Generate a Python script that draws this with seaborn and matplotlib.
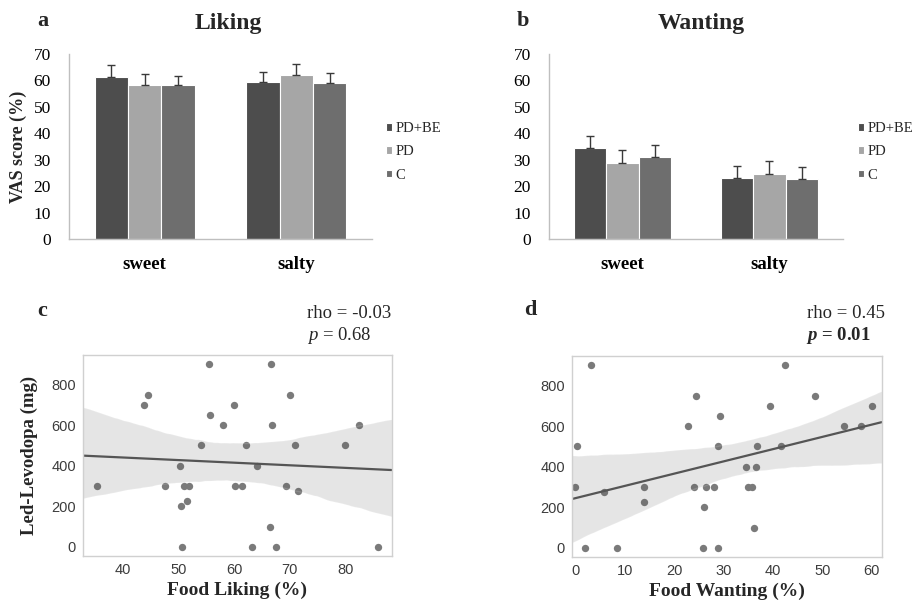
import numpy as np
import pandas as pd
import matplotlib
matplotlib.use('Agg')
import matplotlib.pyplot as plt
import seaborn as sns

# ---- data ----
tastes = ['sweet', 'salty']
groups = ['PD+BE', 'PD', 'C']
bar_colors = ['#4d4d4d', '#a6a6a6', '#6e6e6e']

# VAS score (%), mean and upper error per group (sweet, salty)
liking_pdbe = [61.4, 59.4]
liking_pd = [58.2, 62.0]
liking_c = [58.2, 59.1]
liking_pdbe_err = [4.2, 3.6]
liking_pd_err = [4.1, 4.1]
liking_c_err = [3.4, 3.6]

wanting_pdbe = [34.4, 23.0]
wanting_pd = [28.9, 24.7]
wanting_c = [31.1, 22.7]
wanting_pdbe_err = [4.7, 4.6]
wanting_pd_err = [4.8, 4.7]
wanting_c_err = [4.3, 4.4]

# Led-Levodopa (mg) vs food liking / wanting (%)
liking_x = [35.4, 43.8, 44.6, 47.6, 50.3, 50.4, 50.6, 51.0, 51.9, 51.6, 54.0,
            55.5, 55.7, 58.1, 60.0, 60.1, 61.5, 62.1, 63.2, 64.2, 66.5, 66.6,
            66.9, 67.5, 69.4, 70.1, 70.9, 71.5, 80.0, 82.5, 85.8]
liking_led = [300, 700, 750, 300, 400, 200, 0, 300, 300, 225, 500,
              900, 650, 600, 700, 300, 300, 500, 0, 400, 100, 900,
              600, 0, 300, 750, 500, 275, 500, 600, 0]
wanting_x = [3.1, 0.3, 0.0, 5.7, 2.0, 8.5, 13.9, 13.9, 22.8, 24.4, 23.9,
             26.5, 26.0, 25.8, 28.1, 28.8, 28.8, 29.2, 34.6, 35.0, 35.7, 36.5,
             36.1, 36.7, 39.4, 41.7, 42.4, 48.6, 54.3, 57.8, 60.1]
wanting_led = [900, 500, 300, 275, 0, 0, 300, 225, 600, 750, 300,
               300, 200, 0, 300, 0, 500, 650, 400, 300, 300, 400,
               100, 500, 700, 500, 900, 750, 600, 600, 700]

sns.set_theme(style='whitegrid')
plt.rcParams['mathtext.fontset'] = 'custom'
plt.rcParams['mathtext.it'] = 'Liberation Serif:italic'
plt.rcParams['mathtext.bf'] = 'Liberation Serif:bold'
plt.rcParams['mathtext.bfit'] = 'Liberation Serif:italic:bold'

SERIF = 'Liberation Serif'
SANS = 'Liberation Sans'

fig = plt.figure(figsize=(9.16, 6.07), dpi=100)


def bar_panel(ax, means, errs, legend_x):
    df = pd.DataFrame({
        'taste': tastes * len(groups),
        'group': [g for g in groups for _ in tastes],
        'score': [v for m in means for v in m],
    })
    sns.barplot(data=df, x='taste', y='score', hue='group', order=tastes,
                hue_order=groups, palette=bar_colors, saturation=1,
                width=0.66, errorbar=None, edgecolor='white', linewidth=0.8,
                ax=ax)
    for cont, err in zip(list(ax.containers), errs):
        for bar, e in zip(cont, err):
            ax.errorbar(bar.get_x() + bar.get_width() / 2, bar.get_height(),
                        yerr=[[0], [e]], fmt='none', ecolor='#3a3a3a',
                        elinewidth=1, capsize=3, capthick=1)
    ax.set_ylim(0, 70)
    ax.set_yticks(range(0, 71, 10))
    ax.set_xlim(-0.5, 1.5)
    ax.grid(False)
    for s in ['top', 'right']:
        ax.spines[s].set_visible(False)
    for s in ['left', 'bottom']:
        ax.spines[s].set_color('#bfbfbf')
        ax.spines[s].set_linewidth(1)
    ax.tick_params(axis='y', length=0, pad=13, labelsize=12.5, labelcolor='black')
    ax.tick_params(axis='x', length=0, pad=12, labelsize=13.5, labelcolor='black')
    for lab in ax.get_yticklabels():
        lab.set_fontfamily(SERIF)
    for lab in ax.get_xticklabels():
        lab.set_fontfamily(SERIF)
        lab.set_fontweight('bold')
    ax.set_xlabel('')
    ax.set_ylabel('')
    handles, labels = ax.get_legend_handles_labels()
    ax.legend(handles, labels, loc='center left', bbox_to_anchor=(legend_x, 0.47),
              frameon=False, borderpad=0, borderaxespad=0,
              handlelength=0.45, handleheight=0.45,
              handletextpad=0.2, labelspacing=0.7,
              prop={'family': SERIF, 'size': 10.5})


def scatter_panel(ax, x, y, xlim=None):
    if xlim is not None:
        ax.set_xlim(*xlim)
    sns.regplot(x=x, y=y, ax=ax, truncate=False, seed=3,
                scatter_kws={'color': '#7a7a7a', 's': 28, 'alpha': 1,
                             'linewidths': 0},
                line_kws={'color': '#555555', 'linewidth': 1.6})
    if xlim is not None:
        ax.set_xlim(*xlim)
    ax.grid(False)
    for s in ax.spines.values():
        s.set_color('#d0d0d0')
        s.set_linewidth(1)
    ax.set_yticks([0, 200, 400, 600, 800])
    ax.tick_params(length=0, labelsize=10.5, labelcolor='#3c3c3c', pad=5)
    for lab in ax.get_xticklabels() + ax.get_yticklabels():
        lab.set_fontfamily(SANS)


# a: Liking
ax_a = fig.add_axes([0.0753, 0.6063, 0.331, 0.305])
bar_panel(ax_a, [liking_pdbe, liking_pd, liking_c],
          [liking_pdbe_err, liking_pd_err, liking_c_err], legend_x=1.045)
ax_a.set_ylabel('VAS score (%)', fontfamily=SERIF, fontweight='bold',
                fontsize=13)
ax_a.yaxis.set_label_coords(-0.14, 0.5)

# b: Wanting
ax_b = fig.add_axes([0.5993, 0.6063, 0.321, 0.305])
bar_panel(ax_b, [wanting_pdbe, wanting_pd, wanting_c],
          [wanting_pdbe_err, wanting_pd_err, wanting_c_err], legend_x=1.05)

# c: liking vs levodopa
ax_c = fig.add_axes([0.0906, 0.084, 0.337, 0.331])
scatter_panel(ax_c, liking_x, liking_led)
ax_c.set_xticks([40, 50, 60, 70, 80])
ax_c.set_xlabel('Food Liking (%)', fontfamily=SERIF, fontweight='bold',
                fontsize=14)
ax_c.set_ylabel('Led-Levodopa (mg)', fontfamily=SERIF, fontweight='bold',
                fontsize=13.5)
ax_c.yaxis.set_label_coords(-0.145, 0.5)
ax_c.xaxis.set_label_coords(0.5, -0.13)

# d: wanting vs levodopa
ax_d = fig.add_axes([0.6245, 0.0824, 0.338, 0.331])
scatter_panel(ax_d, wanting_x, wanting_led, xlim=(-0.7, 62))
ax_d.set_xticks([0, 10, 20, 30, 40, 50, 60])
ax_d.set_xlabel('Food Wanting (%)', fontfamily=SERIF, fontweight='bold',
                fontsize=14)
ax_d.xaxis.set_label_coords(0.5, -0.13)

# panel letters, titles and stats
W, H = 916, 607


def ftext(px, py, s, **kw):
    fig.text(px / W, 1 - py / H, s, va='center', **kw)


ftext(43, 21, 'a', ha='center', fontfamily=SERIF, fontweight='bold', fontsize=16)
ftext(228, 23, 'Liking', ha='center', fontfamily=SERIF, fontweight='bold', fontsize=17)
ftext(523, 21, 'b', ha='center', fontfamily=SERIF, fontweight='bold', fontsize=16)
ftext(701, 23, 'Wanting', ha='center', fontfamily=SERIF, fontweight='bold', fontsize=17)
ftext(42, 311, 'c', ha='center', fontfamily=SERIF, fontweight='bold', fontsize=16)
ftext(530, 310, 'd', ha='center', fontfamily=SERIF, fontweight='bold', fontsize=16)

ftext(307, 313, 'rho = -0.03', ha='left', fontfamily=SERIF, fontsize=13.5)
ftext(307, 336, r'$\mathit{p}$ = 0.68', ha='left', fontfamily=SERIF, fontsize=13.5)
ftext(807, 313, 'rho = 0.45', ha='left', fontfamily=SERIF, fontsize=13.5)
ftext(806, 336, r'$\mathbfit{p}$ = 0.01', ha='left', fontfamily=SERIF,
      fontweight='bold', fontsize=13.5)

fig.savefig('out.png', dpi=100)
